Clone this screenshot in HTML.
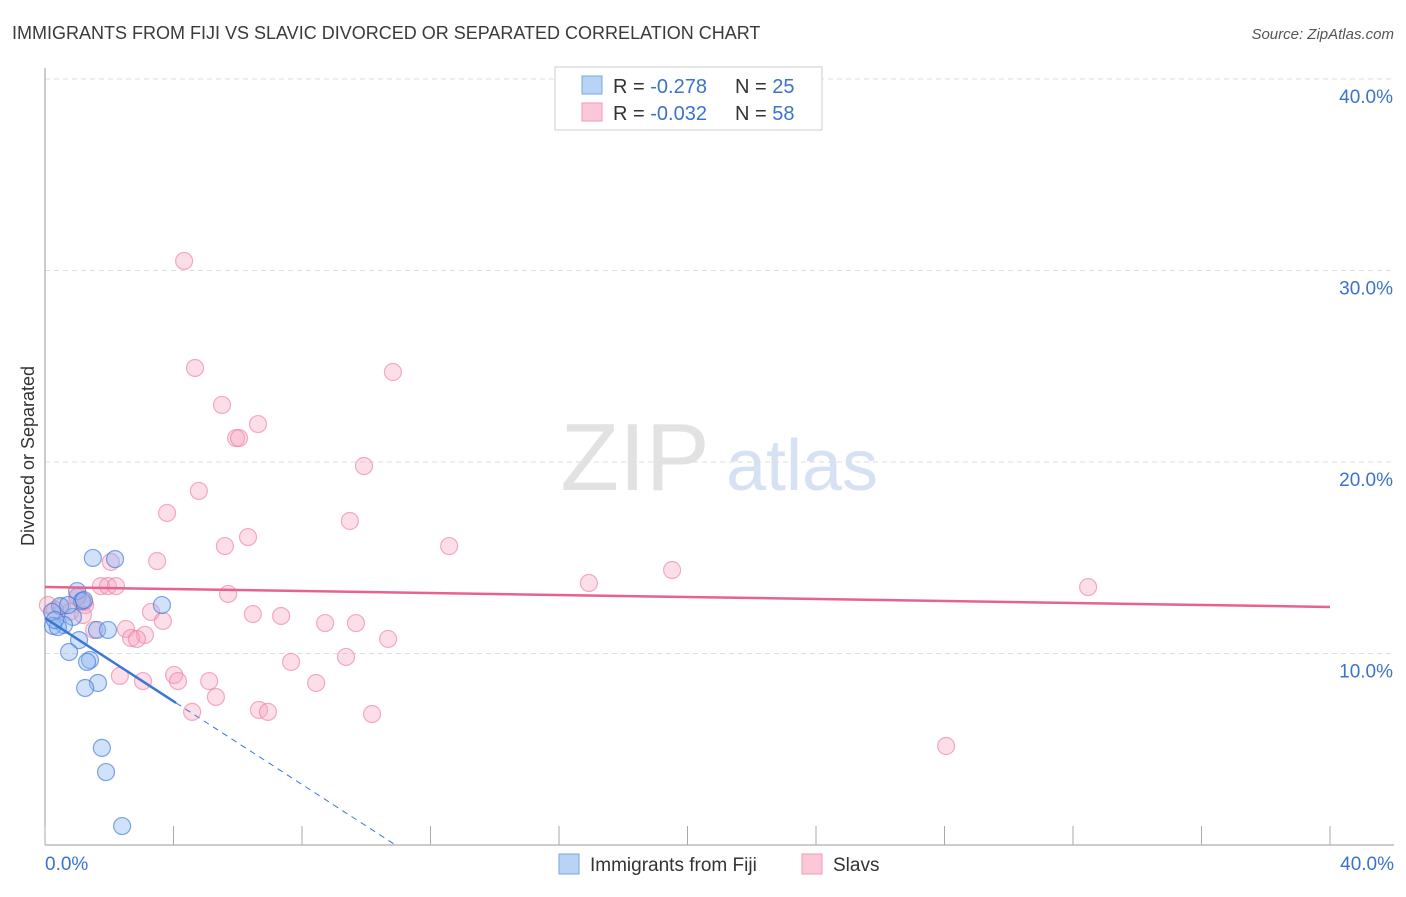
<!DOCTYPE html>
<html><head><meta charset="utf-8"><style>
body{margin:0;background:#fff;font-family:"Liberation Sans",sans-serif;}
svg text{font-family:"Liberation Sans",sans-serif;}
</style></head><body>
<svg id="chart" width="1406" height="892" xmlns="http://www.w3.org/2000/svg">
<text x="12" y="39" font-size="18" fill="#3a3a3a">IMMIGRANTS FROM FIJI VS SLAVIC DIVORCED OR SEPARATED CORRELATION CHART</text>
<text x="1394" y="39" font-size="15" fill="#555" text-anchor="end" font-style="italic">Source: ZipAtlas.com</text>
<g>
<text x="635" y="490" font-size="96" fill="#e2e2e2" text-anchor="middle" font-family="Liberation Serif">ZIP</text>
<text x="802" y="490" font-size="72" fill="#d6e2f3" text-anchor="middle">atlas</text>
</g>
<g id="grid"></g>
<g id="axes"></g>
<g id="marks"></g>
<text transform="translate(34,456) rotate(-90)" font-size="18" fill="#333" text-anchor="middle">Divorced or Separated</text>
<g>
<rect x="555" y="67" width="267" height="63" fill="#fff" stroke="#ccc"/>
<rect x="582" y="76" width="20" height="18" fill="#b9d3f5" stroke="#7aa6e3"/>
<rect x="582" y="103" width="20" height="18" fill="#fcc8d8" stroke="#f19ab5"/>
<text x="613" y="93" font-size="20" fill="#333">R = <tspan fill="#3b73cc">-0.278</tspan></text>
<text x="735" y="93" font-size="20" fill="#333">N = <tspan fill="#3b73cc">25</tspan></text>
<text x="613" y="120" font-size="20" fill="#333">R = <tspan fill="#3b73cc">-0.032</tspan></text>
<text x="735" y="120" font-size="20" fill="#333">N = <tspan fill="#3b73cc">58</tspan></text>
</g>
<g>
<rect x="559" y="854" width="20" height="20" fill="#b9d3f5" stroke="#7aa6e3"/>
<text x="590" y="871" font-size="19" fill="#333">Immigrants from Fiji</text>
<rect x="802" y="854" width="20" height="20" fill="#fcc8d8" stroke="#f19ab5"/>
<text x="833" y="871" font-size="19" fill="#333">Slavs</text>
</g>
</svg>
<script>
const fijiX=[1.49,2.18,1.0,3.64,0.47,0.22,0.87,0.59,0.25,0.40,1.15,0.72,1.62,1.96,1.06,0.75,1.40,1.31,1.65,1.25,1.77,1.90,2.40,0.31,1.21];
const fijiY=[14.99,14.93,13.26,12.53,12.48,12.17,11.91,11.49,11.44,11.38,12.74,12.53,11.23,11.23,10.70,10.08,9.66,9.56,8.46,8.20,5.07,3.81,0.99,11.75,12.79];
const slavX=[4.33,4.67,10.83,5.51,6.63,5.95,6.04,9.93,4.79,3.80,9.49,6.32,5.60,12.58,3.49,2.05,16.93,19.52,1.74,1.96,2.21,32.47,5.70,1.03,1.25,0.53,3.30,6.47,7.35,3.67,8.72,9.68,2.52,1.53,3.11,2.68,2.86,10.68,7.66,9.37,4.02,2.33,4.14,5.11,3.05,8.44,5.32,4.58,6.66,6.94,10.18,28.05,0.09,0.78,0.31,1.21,1.00,1.18];
const slavY=[30.50,24.91,24.70,22.98,21.98,21.25,21.25,19.79,18.49,17.34,16.92,16.08,15.61,15.61,14.83,14.78,13.68,14.36,13.52,13.52,13.52,13.47,13.11,13.00,12.53,12.43,12.17,12.06,11.96,11.70,11.59,11.59,11.28,11.23,10.97,10.81,10.76,10.76,9.56,9.82,8.88,8.83,8.56,8.56,8.56,8.46,7.73,6.95,7.05,6.95,6.84,5.17,12.53,12.17,12.27,12.69,12.95,12.01];
const yTicks=[10,20,30,40];
const yTickLabels=["10.0%","20.0%","30.0%","40.0%"];
const xTickLabels=["0.0%","40.0%"];
const fijiTrend=[11.85,-1.086];   // intercept, slope
const slavTrend=[13.47,-0.026];
const fijiSolidEnd=4.08;

const NS="http://www.w3.org/2000/svg";
const X0=45,X1=1330,Y0=845,Y40=79;
const sx=v=>X0+(X1-X0)*v/40;
const sy=v=>Y0-(Y0-Y40)*v/40;
function mk(tag,attrs,parent){const e=document.createElementNS(NS,tag);for(const k in attrs)e.setAttribute(k,attrs[k]);parent.appendChild(e);return e;}
const grid=document.getElementById('grid'),axes=document.getElementById('axes'),marks=document.getElementById('marks');
yTicks.forEach((t,i)=>{
  const l=mk('line',{x1:X0,x2:1394,y1:sy(t),y2:sy(t),stroke:'#ddd','stroke-dasharray':'5,4'},grid);
  
  
  const tx=mk('text',{x:1393,y:sy(t)+24,'font-size':19,fill:'#3b73cc','text-anchor':'end'},axes);
  tx.textContent=yTickLabels[i];
  
  
});
const la=mk('line',{x1:X0,x2:X0,y1:68,y2:Y0,stroke:'#999'},axes);


const ba=mk('line',{x1:X0,x2:1394,y1:Y0,y2:Y0,stroke:'#999'},axes);


for(let i=0;i<=10;i++){
  const t=mk('line',{x1:sx(i*4),x2:sx(i*4),y1:826,y2:Y0,stroke:'#aaa'},axes);
  
  
}
const xl0=mk('text',{x:45,y:870,'font-size':19,fill:'#3b73cc'},axes);xl0.textContent=xTickLabels[0];


const xl1=mk('text',{x:1394,y:870,'font-size':19,fill:'#3b73cc','text-anchor':'end'},axes);xl1.textContent=xTickLabels[1];



slavX.forEach((x,i)=>{
  const c=mk('circle',{cx:sx(x),cy:sy(slavY[i]),r:8.5,fill:'rgba(247,160,190,0.35)',stroke:'rgba(236,120,160,0.6)','stroke-width':1.2},marks);
  
  
});
fijiX.forEach((x,i)=>{
  const c=mk('circle',{cx:sx(x),cy:sy(fijiY[i]),r:8.5,fill:'rgba(140,180,240,0.4)',stroke:'rgba(60,120,215,0.65)','stroke-width':1.2},marks);
  
  
});
const st=mk('line',{x1:sx(0),y1:sy(slavTrend[0]),x2:sx(40),y2:sy(slavTrend[0]+slavTrend[1]*40),stroke:'#e8628f','stroke-width':2.5},marks);


const fs=mk('line',{x1:sx(0),y1:sy(fijiTrend[0]),x2:sx(fijiSolidEnd),y2:sy(fijiTrend[0]+fijiTrend[1]*fijiSolidEnd),stroke:'#3a76d4','stroke-width':2.5},marks);


const xz=-fijiTrend[0]/fijiTrend[1];
const fd=mk('line',{x1:sx(fijiSolidEnd),y1:sy(fijiTrend[0]+fijiTrend[1]*fijiSolidEnd),x2:sx(xz),y2:sy(0),stroke:'#3a76d4','stroke-width':1,'stroke-dasharray':'6,5'},marks);


</script>
</body></html>
